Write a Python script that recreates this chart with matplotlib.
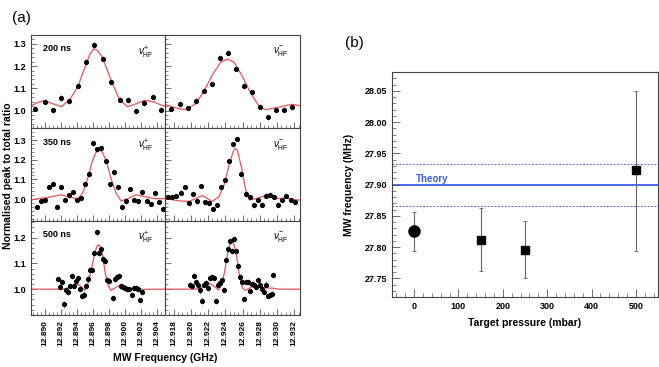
import matplotlib
matplotlib.use("Agg")
import matplotlib.pyplot as plt
from matplotlib.ticker import MultipleLocator, AutoMinorLocator, FormatStrFormatter

plt.rcParams['font.family'] = ['Liberation Sans', 'DejaVu Sans']
plt.rcParams['mathtext.fontset'] = 'custom'
plt.rcParams['mathtext.rm'] = 'Liberation Sans'
plt.rcParams['mathtext.it'] = 'Liberation Sans:italic'

# ---- (a) resonance scans: measured points and fitted line shapes ----
# 200 ns, nu+
f_200p = [12.8887, 12.8899, 12.8909, 12.8920, 12.8930, 12.8941, 12.8951, 12.8961,
          12.8972, 12.8982, 12.8993, 12.9003, 12.9014, 12.9024, 12.9035, 12.9045]
r_200p = [1.008, 1.040, 1.001, 1.057, 1.043, 1.112, 1.218, 1.297,
          1.233, 1.129, 1.049, 1.048, 0.996, 1.033, 1.063, 1.003]
fit_f_200p = [12.8882, 12.8891, 12.88987, 12.8909, 12.8920, 12.8930, 12.8941, 12.8946,
              12.8951, 12.8956, 12.8961, 12.8966, 12.8972, 12.8982, 12.8993, 12.9003,
              12.9014, 12.9024, 12.9035, 12.9045, 12.9050]
fit_r_200p = [1.022, 1.037, 1.045, 1.031, 1.017, 1.046, 1.109, 1.160,
              1.206, 1.255, 1.279, 1.268, 1.236, 1.139, 1.049, 1.017,
              1.031, 1.046, 1.040, 1.025, 1.019]

# 200 ns, nu-
f_200m = [12.91773, 12.91870, 12.91962, 12.92055, 12.92148, 12.92241, 12.92334, 12.92426,
          12.92519, 12.92612, 12.92705, 12.92798, 12.92891, 12.92988, 12.93081, 12.93174]
r_200m = [1.008, 1.030, 1.013, 1.043, 1.090, 1.120, 1.236, 1.260,
          1.188, 1.111, 1.082, 1.018, 0.969, 1.004, 1.004, 1.015]
fit_f_200m = [12.91704, 12.91785, 12.91862, 12.91947, 12.92055, 12.92153, 12.92249, 12.92345,
              12.92423, 12.92501, 12.92597, 12.92693, 12.92791, 12.92867, 12.92983, 12.93099,
              12.93177, 12.93262]
fit_r_200m = [1.027, 1.017, 1.008, 1.004, 1.031, 1.087, 1.161, 1.217,
              1.232, 1.217, 1.154, 1.079, 1.019, 1.004, 1.012, 1.022,
              1.028, 1.022]

# 350 ns, nu+
f_350p = [12.88891, 12.88945, 12.88995, 12.89045, 12.89095, 12.89146, 12.89196, 12.89246,
          12.89296, 12.89346, 12.89396, 12.89452, 12.89502, 12.89552, 12.89602, 12.89652,
          12.89703, 12.89757, 12.89807, 12.89857, 12.89907, 12.89966, 12.90016, 12.90061,
          12.90117, 12.90167, 12.90217, 12.90271, 12.90321, 12.90371, 12.90421, 12.90471]
r_350p = [0.960, 0.988, 0.995, 1.062, 1.077, 0.961, 1.062, 0.996,
          1.020, 1.034, 0.996, 1.003, 1.077, 1.126, 1.284, 1.253,
          1.258, 1.193, 1.076, 1.136, 1.062, 0.961, 0.988, 1.052,
          0.996, 0.988, 1.037, 0.991, 0.975, 1.030, 0.985, 0.951]
fit_f_350p = [12.8882, 12.88903, 12.89029, 12.89196, 12.89321, 12.89405, 12.89468, 12.89531,
              12.89593, 12.89635, 12.89665, 12.89706, 12.89760, 12.89823, 12.89886, 12.89949,
              12.90033, 12.90137, 12.90242, 12.90368, 12.90501]
fit_r_350p = [0.995, 1.002, 1.008, 1.022, 1.008, 1.002, 1.030, 1.106,
              1.198, 1.237, 1.249, 1.244, 1.198, 1.106, 1.030, 0.991,
              1.002, 1.022, 1.013, 1.002, 1.002]

# 350 ns, nu-
f_350m = [12.91739, 12.91785, 12.91831, 12.91881, 12.91928, 12.91974, 12.92020, 12.92071,
          12.92118, 12.92164, 12.92211, 12.92257, 12.92303, 12.92350, 12.92396, 12.92443,
          12.92489, 12.92536, 12.92585, 12.92635, 12.92682, 12.92728, 12.92779, 12.92826,
          12.92872, 12.92918, 12.92965, 12.93011, 12.93061, 12.93107, 12.93157, 12.93204]
r_350m = [1.010, 1.012, 1.015, 1.033, 1.061, 0.978, 1.028, 0.988,
          1.066, 0.983, 0.981, 0.949, 0.970, 1.062, 1.099, 1.193,
          1.278, 1.305, 1.126, 1.025, 1.012, 0.968, 0.995, 0.971,
          1.018, 1.022, 1.012, 0.971, 0.995, 1.017, 0.995, 0.985]
fit_f_350m = [12.91707, 12.91862, 12.91979, 12.92133, 12.92249, 12.92327, 12.92385, 12.92443,
              12.92489, 12.92512, 12.92539, 12.92589, 12.92635, 12.92682, 12.92751, 12.92867,
              12.92983, 12.93099, 12.93215, 12.93262]
fit_r_350m = [1.002, 0.991, 0.988, 1.018, 0.988, 1.013, 1.072, 1.173,
              1.240, 1.258, 1.249, 1.156, 1.047, 0.996, 1.002, 1.018,
              1.002, 1.005, 0.996, 0.995]

# 500 ns, nu+
f_500p = [12.89163, 12.89183, 12.89213, 12.89238, 12.89263, 12.89289, 12.89314, 12.89339,
          12.89364, 12.89389, 12.89414, 12.89439, 12.89464, 12.89489, 12.89514, 12.89540,
          12.89565, 12.89590, 12.89615, 12.89644, 12.89669, 12.89694, 12.89719, 12.89744,
          12.89769, 12.89794, 12.89848, 12.89873, 12.89898, 12.89923, 12.89949, 12.89974,
          12.89999, 12.90024, 12.90049, 12.90083, 12.90108, 12.90142, 12.90167, 12.90187,
          12.90212]
r_500p = [1.038, 1.010, 1.027, 0.941, 0.995, 0.990, 1.013, 1.052,
          1.014, 1.031, 1.043, 1.001, 0.972, 0.979, 1.012, 1.041,
          1.075, 1.073, 1.141, 1.220, 1.141, 1.156, 1.115, 1.108,
          1.037, 1.033, 0.967, 1.041, 1.048, 1.050, 1.012, 1.008,
          1.005, 1.001, 1.000, 0.977, 1.004, 1.005, 1.002, 0.958,
          0.990]
fit_f_500p = [12.8882, 12.89029, 12.89238, 12.89321, 12.89405, 12.89447, 12.89497, 12.89531,
              12.89572, 12.89615, 12.89644, 12.89665, 12.89690, 12.89719, 12.89748, 12.89782,
              12.89823, 12.89865, 12.89928, 12.89991, 12.90074, 12.90158, 12.90221, 12.90368,
              12.90501]
fit_r_500p = [1.000, 1.000, 1.000, 1.008, 1.018, 1.011, 0.996, 1.018,
              1.069, 1.133, 1.165, 1.172, 1.165, 1.127, 1.069, 1.018,
              0.995, 1.003, 1.014, 1.004, 1.000, 1.003, 0.999, 1.000,
              1.000]

# 500 ns, nu-
f_500m = [12.91990, 12.92009, 12.92037, 12.92060, 12.92083, 12.92106, 12.92129, 12.92153,
          12.92176, 12.92199, 12.92222, 12.92245, 12.92269, 12.92292, 12.92315, 12.92338,
          12.92361, 12.92385, 12.92403, 12.92426, 12.92450, 12.92473, 12.92496, 12.92519,
          12.92542, 12.92566, 12.92589, 12.92612, 12.92635, 12.92658, 12.92682, 12.92705,
          12.92728, 12.92751, 12.92774, 12.92798, 12.92821, 12.92844, 12.92867, 12.92890,
          12.92914, 12.92937, 12.92957]
r_500m = [1.015, 1.012, 1.050, 1.027, 1.015, 0.995, 0.956, 1.018,
          1.023, 1.004, 1.043, 1.048, 1.043, 0.954, 1.018, 1.022,
          1.036, 0.997, 1.114, 1.156, 1.185, 1.149, 1.195, 1.149,
          1.088, 1.048, 1.027, 0.962, 1.028, 1.028, 0.992, 1.020,
          1.018, 1.010, 1.036, 1.018, 1.002, 0.990, 1.018, 0.972,
          0.977, 0.982, 1.054]
fit_f_500m = [12.9170, 12.92055, 12.92113, 12.92171, 12.92218, 12.92269, 12.92319, 12.92357,
              12.92392, 12.92423, 12.92450, 12.92473, 12.92496, 12.92527, 12.92559, 12.92597,
              12.92635, 12.92682, 12.92733, 12.92791, 12.92867, 12.92945, 12.93023, 12.93262]
fit_r_500m = [1.000, 1.000, 1.005, 1.015, 1.022, 1.011, 0.997, 1.018,
              1.069, 1.133, 1.172, 1.185, 1.177, 1.133, 1.063, 1.005,
              0.995, 1.005, 1.017, 1.008, 1.005, 1.004, 1.000, 1.000]

row_labels = ["200 ns", "350 ns", "500 ns"]
row_ylims = [(0.92, 1.34), (0.89, 1.36), (0.90, 1.265)]
row_yticks = [[1.0, 1.1, 1.2, 1.3], [1.0, 1.1, 1.2, 1.3], [1.0, 1.1, 1.2]]
left_ticks = [12.890, 12.892, 12.894, 12.896, 12.898, 12.900, 12.902, 12.904]
right_ticks = [12.918, 12.920, 12.922, 12.924, 12.926, 12.928, 12.930, 12.932]

# ---- (b) fitted hyperfine frequency vs target pressure ----
pressure = [0, 150, 250, 500]
mw_freq = [27.825, 27.811, 27.796, 27.923]
err_low = [0.032, 0.050, 0.046, 0.129]
err_high = [0.031, 0.051, 0.045, 0.127]
theory = 27.899
theory_band = (27.866, 27.933)

fig = plt.figure(figsize=(6.59, 3.67), dpi=100)

panels = [
    [(f_200p, r_200p, fit_f_200p, fit_r_200p), (f_200m, r_200m, fit_f_200m, fit_r_200m)],
    [(f_350p, r_350p, fit_f_350p, fit_r_350p), (f_350m, r_350m, fit_f_350m, fit_r_350m)],
    [(f_500p, r_500p, fit_f_500p, fit_r_500p), (f_500m, r_500m, fit_f_500m, fit_r_500m)],
]
row_bottoms = [0.6504, 0.3986, 0.1417]
row_heights = [0.2542, 0.2518, 0.2569]
col_lefts = [0.047, 0.2504]
col_widths = [0.2034, 0.2041]
col_xlims = [(12.8882, 12.9050), (12.9170, 12.9326)]
col_ticks = [left_ticks, right_ticks]
col_nu = [r"$\nu^{+}_{\rm HF}$", r"$\nu^{-}_{\rm HF}$"]

grey = "#555555"
for i in range(3):
    for j in range(2):
        ax = fig.add_axes([col_lefts[j], row_bottoms[i], col_widths[j], row_heights[i]])
        f, r, ff, fr = panels[i][j]
        ax.plot(ff, fr, color="#e8545a", lw=0.9, zorder=2)
        ax.errorbar(f, r, yerr=0.012, fmt="o", ms=2.7, color="black",
                    ecolor="#777777", elinewidth=0.6, capsize=0, zorder=3)
        ax.set_xlim(*col_xlims[j])
        ax.set_ylim(*row_ylims[i])
        ax.set_xticks(col_ticks[j])
        ax.xaxis.set_minor_locator(AutoMinorLocator(4))
        ax.set_yticks(row_yticks[i])
        ax.yaxis.set_minor_locator(AutoMinorLocator(5))
        ax.yaxis.set_major_formatter(FormatStrFormatter("%.1f"))
        ax.xaxis.set_major_formatter(FormatStrFormatter("%.3f"))
        ax.tick_params(which="both", direction="in", color=grey, top=False, right=False)
        ax.tick_params(which="major", length=4, width=0.6)
        ax.tick_params(which="minor", length=2, width=0.5)
        for s in ax.spines.values():
            s.set_color("#444444")
            s.set_linewidth(0.8)
        if j == 1:
            ax.set_yticklabels([])
        else:
            for lab in ax.get_yticklabels():
                lab.set_fontsize(6.5)
                lab.set_fontweight("bold")
        if i < 2:
            ax.set_xticklabels([])
        else:
            for lab in ax.get_xticklabels():
                lab.set_fontsize(6)
                lab.set_fontweight("bold")
                lab.set_rotation(90)
        if j == 0:
            ax.text(0.09, 0.9, row_labels[i], transform=ax.transAxes, fontsize=6.5,
                    fontweight="bold", va="top", ha="left")
        ax.text(0.86, 0.9, col_nu[j], transform=ax.transAxes, fontsize=7,
                va="top", ha="center")

fig.text(0.012, 0.52, "Normalised peak to total ratio", rotation=90, fontsize=7.5,
         fontweight="bold", va="center", ha="center")
fig.text(0.25, 0.025, "MW Frequency (GHz)", fontsize=7.5, fontweight="bold",
         ha="center", va="center")
fig.text(0.018, 0.95, "(a)", fontsize=11, ha="left", va="center")

# ---- panel (b) ----
axb = fig.add_axes([0.5948, 0.1907, 0.4037, 0.6131])
axb.axhline(theory, color="#3b5bfa", lw=1.3, zorder=1)
for y in theory_band:
    axb.axhline(y, color="#5a6ef0", lw=0.7, ls=(0, (2, 1.5)), zorder=1)
axb.text(4, theory + 0.002, "Theory", color="#3b5bfa", fontsize=7,
         fontweight="bold", va="bottom", ha="left")
markers = ["o", "s", "s", "s"]
msizes = [8, 5.5, 5.5, 5.5]
for k in range(len(pressure)):
    axb.errorbar([pressure[k]], [mw_freq[k]], yerr=[[err_low[k]], [err_high[k]]],
                 fmt=markers[k], ms=msizes[k], color="black", ecolor="#666666",
                 elinewidth=0.8, capsize=1.2, capthick=0.6, zorder=3)
axb.set_xlim(-50, 550)
axb.set_ylim(27.72, 28.08)
axb.xaxis.set_major_locator(MultipleLocator(100))
axb.xaxis.set_minor_locator(AutoMinorLocator(5))
axb.yaxis.set_major_locator(MultipleLocator(0.05))
axb.yaxis.set_minor_locator(AutoMinorLocator(5))
axb.yaxis.set_major_formatter(FormatStrFormatter("%.2f"))
axb.tick_params(which="both", direction="in", color=grey, top=False, right=False,
                labelsize=6.5)
axb.tick_params(which="major", length=6, width=0.6)
axb.tick_params(which="minor", length=3, width=0.5)
for lab in axb.get_xticklabels() + axb.get_yticklabels():
    lab.set_fontweight("bold")
for s in axb.spines.values():
    s.set_color("#444444")
    s.set_linewidth(0.8)
axb.set_xlabel("Target pressure (mbar)", fontsize=7.5, fontweight="bold", labelpad=5)
axb.set_ylabel("MW frequency (MHz)", fontsize=7.5, fontweight="bold", labelpad=8)
fig.text(0.523, 0.882, "(b)", fontsize=11, ha="left", va="center")

fig.savefig("out.png", dpi=100)
